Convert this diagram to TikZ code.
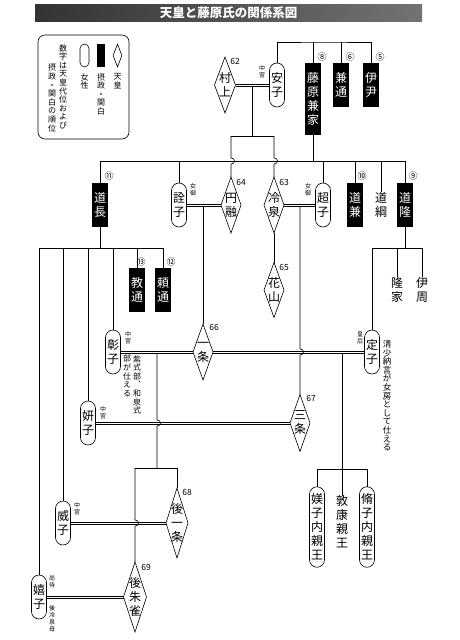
\documentclass[tikz,border=0pt]{standalone}
\usepackage{fontspec}
\setmainfont{Noto Sans CJK JP}
\usepackage{tikz}
\usetikzlibrary{shapes.geometric}

\begin{document}
\begin{tikzpicture}[x=1pt, y=-1pt, line width=0.6pt,
    jimei/.style={align=center, inner sep=0pt, outer sep=0pt, font=\fontsize{12}{14}\selectfont},
    josei/.style={jimei, draw, rounded corners=7.5pt, minimum width=15pt, minimum height=44pt, inner ysep=7pt},
    sessho/.style={jimei, fill=black, text=white, minimum width=16pt, minimum height=44pt, inner ysep=7pt},
    tenno/.style={draw, diamond, inner sep=0pt, outer sep=0pt, minimum width=20pt, minimum height=56pt},
    kon/.style={line width=0.5pt},
    hop/.style={out=0, in=0, looseness=2},
    yaku/.style={align=center, inner sep=0pt, font=\fontsize{6}{7}\selectfont},
    chu/.style={align=center, inner sep=0pt, font=\fontsize{8}{8.6}\selectfont},
    dai/.style={inner sep=0pt, anchor=west, font=\fontsize{8.5}{9}\selectfont},
    juni/.style={inner sep=0pt, font=\fontsize{9}{9}\selectfont}]
\useasboundingbox[fill=white] (0,0) rectangle (460,640);

% title
\node[left color=black!80, right color=black!55, minimum width=387pt, minimum height=17pt, inner sep=0pt,
  text=white, font=\fontsize{12.5}{13}\selectfont\bfseries] (title) at (228.5,12.5) {天皇と藤原氏の関係系図};

% legend
\draw[rounded corners=7pt] (38,35) rectangle (129,139);
\node[draw, diamond, inner sep=0pt, minimum width=9pt, minimum height=23pt] (key-tenno) at (117.5,55.5) {};
\node[fill=black, inner sep=0pt, minimum width=8pt, minimum height=23pt] (key-sessho) at (101,55.5) {};
\node[draw, rounded corners=4.5pt, inner sep=0pt, minimum width=9pt, minimum height=23pt] (key-josei) at (84.5,55.5) {};
\node[chu, anchor=north] (key-t1) at (117.5,73) {天\\皇};
\node[chu, anchor=north] (key-t2) at (101,73) {摂\\政\\・\\関\\白};
\node[chu, anchor=north] (key-t3) at (84.5,73) {女\\性};
\node[chu, anchor=north] (key-t4) at (63,44) {数\\字\\は\\天\\皇\\代\\位\\お\\よ\\び};
\node[chu, anchor=south] (key-t5) at (52,132) {摂\\政\\・\\関\\白\\の\\順\\位};

% people
\node[tenno, minimum width=21pt, label={[jimei]center:{村\\上}}] (murakami) at (225,85) {};
\node[josei] (anshi) at (277,85) {安\\子};
\node[sessho, minimum height=72pt] (kaneie) at (313,99) {藤\\原\\兼\\家};
\node[sessho] (kanemichi) at (341,85) {兼\\通};
\node[sessho] (koremasa) at (371,85) {伊\\尹};

\node[sessho] (michinaga) at (100,205) {道\\長};
\node[josei] (senshi) at (179,205) {詮\\子};
\node[tenno, label={[jimei]center:{円\\融}}] (enyu) at (231,205) {};
\node[tenno, label={[jimei]center:{冷\\泉}}] (reizei) at (274,205) {};
\node[josei] (choshi) at (323,205) {超\\子};
\node[sessho] (michikane) at (355,205) {道\\兼};
\node[jimei] (michitsuna) at (381,205) {道\\綱};
\node[sessho] (michitaka) at (405,205) {道\\隆};

\node[sessho] (norimichi) at (137,290) {教\\通};
\node[sessho] (yorimichi) at (163,290) {頼\\通};
\node[tenno, minimum height=55pt, label={[jimei]center:{花\\山}}] (kazan) at (274,290) {};
\node[jimei] (takaie) at (397,290) {隆\\家};
\node[jimei] (korechika) at (422,290) {伊\\周};

\node[josei] (shoshi) at (113,352) {彰\\子};
\node[tenno, label={[jimei]center:{一\\条}}] (ichijo) at (203,352) {};
\node[josei] (teishi) at (372,352) {定\\子};
\node[josei] (kenshi) at (88,423) {妍\\子};
\node[tenno, minimum height=57pt, label={[jimei]center:{三\\条}}] (sanjo) at (300,423) {};

\node[josei] (ishi) at (63,523) {威\\子};
\node[tenno, minimum width=22pt, minimum height=70pt, label={[jimei]center:{後\\一\\条}}] (goichijo) at (177,523) {};
\node[josei] (kishi) at (39,597) {嬉\\子};
\node[tenno, minimum width=23pt, minimum height=70pt, label={[jimei]center:{後\\朱\\雀}}] (gosuzaku) at (135,597) {};
\node[josei] (biishi) at (317,527) {媄\\子\\内\\親\\王};
\node[jimei] (atsuyasu) at (342,522) {敦\\康\\親\\王};
\node[josei] (shushi) at (367,527) {脩\\子\\内\\親\\王};

% emperor numbers
\node[dai] (d62) at (230,61) {62};
\node[dai] (d64) at (236,182) {64};
\node[dai] (d63) at (279,182) {63};
\node[dai] (d65) at (279,267) {65};
\node[dai] (d66) at (209,327) {66};
\node[dai] (d67) at (306,398) {67};
\node[dai] (d68) at (182,492) {68};
\node[dai] (d69) at (141,567) {69};

% sessho ranks
\node[juni] (r8) at (322,57) {⑧};
\node[juni] (r6) at (350,57) {⑥};
\node[juni] (r5) at (380,57) {⑤};
\node[juni] (r11) at (109,176) {⑪};
\node[juni] (r10) at (362,176) {⑩};
\node[juni] (r9) at (413,176) {⑨};
\node[juni] (r13) at (141,262) {⑬};
\node[juni] (r12) at (171,262) {⑫};

% titles of the women
\node[yaku] (anshi-t) at (262,72) {中\\宮};
\node[yaku] (senshi-t) at (193,190) {女\\御};
\node[yaku] (choshi-t) at (308,190) {女\\御};
\node[yaku] (shoshi-t) at (128,338) {中\\宮};
\node[yaku] (teishi-t) at (360,338) {皇\\后};
\node[yaku] (kenshi-t) at (103,413) {中\\宮};
\node[yaku] (ishi-t) at (77,509) {中\\宮};
\node[yaku] (kishi-t) at (52,582) {尚\\侍};
\node[yaku] (kishi-m) at (52,619) {後\\冷\\泉\\母};

% notes
\node[chu, anchor=north] (shoshi-n1) at (137,355) {紫\\式\\部\\︑\\和\\泉\\式};
\node[chu, anchor=north] (shoshi-n2) at (127,355) {部\\が\\仕\\え\\る};
\node[chu, anchor=north, font=\fontsize{8.5}{8.6}\selectfont] (teishi-n) at (387,340) {清\\少\\納\\言\\が\\女\\房\\と\\し\\て\\仕\\え\\る};

% marriages
\foreach \a/\b in {murakami/anshi, senshi/enyu, reizei/choshi, shoshi/ichijo,
                   ichijo/teishi, kenshi/sanjo, ishi/goichijo, kishi/gosuzaku}
  \draw[kon] ([yshift=1.1pt]\a.east) -- ([yshift=1.1pt]\b.west)
             ([yshift=-1.1pt]\a.east) -- ([yshift=-1.1pt]\b.west);

% Morosuke's children
\coordinate (morosuke) at (324,42);
\draw (anshi.north) |- (morosuke) -| (koremasa.north);
\foreach \n in {kaneie,kanemichi}
  \draw (\n.north) -- (\n.north |- morosuke);

% Murakami and Anshi
\coordinate (murakami-kids) at (252,136);
\draw ([yshift=-1.1pt]murakami-kids |- anshi.west) -- (murakami-kids);
\draw (enyu.north |- murakami-kids) -- (reizei.north |- murakami-kids);
\foreach \n in {enyu,reizei}
  \draw (\n.north |- murakami-kids) -- ++(0,22) to[hop] ++(0,6) -- (\n.north);

% Kaneie's children
\coordinate (kaneie-kids) at (313,161);
\draw (kaneie.south) -- (kaneie-kids);
\draw (michinaga.north |- kaneie-kids) -- (michitaka.north |- kaneie-kids);
\foreach \n in {michinaga,senshi,choshi,michikane,michitsuna,michitaka}
  \draw (\n.north |- kaneie-kids) -- (\n.north);

\draw (reizei.south) -- (kazan.north);
\draw ([yshift=-1.1pt]ichijo.north |- enyu.west) -- (ichijo.north);
\draw ([yshift=-1.1pt]sanjo.north |- reizei.east) -- ++(0,142.9) to[hop] ++(0,6) -- (sanjo.north);

% Michinaga's children
\coordinate (michinaga-kids) at (100,248);
\draw (michinaga.south) -- (michinaga-kids);
\draw (kishi.north |- michinaga-kids) -- (yorimichi.north |- michinaga-kids);
\foreach \n in {kishi,ishi,kenshi,shoshi,norimichi,yorimichi}
  \draw (\n.north |- michinaga-kids) -- (\n.north);

% Michitaka's children
\coordinate (michitaka-kids) at (405,248);
\draw (michitaka.south) -- (michitaka-kids);
\draw (teishi.north |- michitaka-kids) -- (korechika.north |- michitaka-kids);
\foreach \n in {teishi,takaie,korechika}
  \draw (\n.north |- michitaka-kids) -- (\n.north);

% Ichijo and Teishi
\coordinate (teishi-kids) at (342,469);
\draw ([yshift=-1.1pt]teishi-kids |- teishi.west) -- (teishi-kids);
\draw (biishi.north |- teishi-kids) -- (shushi.north |- teishi-kids);
\foreach \n in {biishi,atsuyasu,shushi}
  \draw (\n.north |- teishi-kids) -- (\n.north);

% Ichijo and Shoshi
\coordinate (shoshi-kids) at (157,468);
\draw ([yshift=-1.1pt]shoshi-kids |- shoshi.east) -- ++(0,66.9) to[hop] ++(0,6) -- (shoshi-kids);
\draw (gosuzaku.north |- shoshi-kids) -- (goichijo.north |- shoshi-kids);
\draw (goichijo.north |- shoshi-kids) -- (goichijo.north);
\draw (gosuzaku.north |- shoshi-kids) -- ++(0,52) to[hop] ++(0,6) -- (gosuzaku.north);
\end{tikzpicture}
\end{document}
